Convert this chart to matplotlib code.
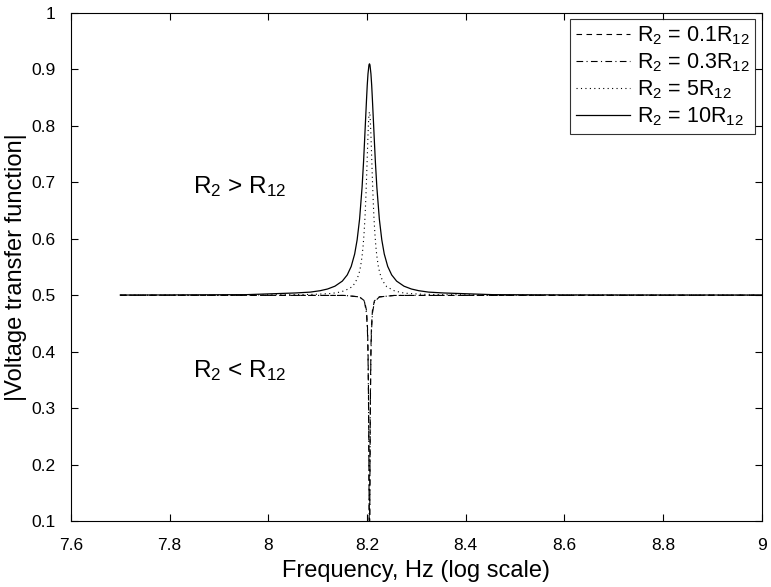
import matplotlib
matplotlib.use("Agg")
import matplotlib.pyplot as plt
from matplotlib.ticker import FuncFormatter

plt.rcParams["font.family"] = ["Liberation Sans", "DejaVu Sans"]
plt.rcParams["mathtext.fontset"] = "custom"
plt.rcParams["mathtext.rm"] = "Liberation Sans"
plt.rcParams["mathtext.it"] = "Liberation Sans"

# log10 frequency / |H| (resonance near 8.205)
x_10R12 = [7.70, 7.80, 7.955, 8.055, 8.085, 8.105, 8.120, 8.135, 8.150, 8.160,
           8.168, 8.175, 8.180, 8.185, 8.190, 8.193, 8.195, 8.197, 8.199,
           8.2005, 8.202, 8.204, 8.205,
           8.206, 8.208, 8.2095, 8.211, 8.213, 8.215, 8.217, 8.220, 8.225,
           8.230, 8.235, 8.242, 8.250, 8.260, 8.275, 8.290, 8.305, 8.325,
           8.355, 8.455, 8.605, 9.00]
y_10R12 = [0.5003, 0.5005, 0.501, 0.504, 0.5055, 0.508, 0.511, 0.516, 0.525, 0.536,
           0.551, 0.573, 0.598, 0.635, 0.691, 0.736, 0.772, 0.809, 0.846,
           0.872, 0.892, 0.908, 0.910,
           0.908, 0.892, 0.872, 0.846, 0.809, 0.772, 0.736, 0.691, 0.635,
           0.598, 0.573, 0.551, 0.536, 0.525, 0.516, 0.511, 0.508, 0.5055,
           0.504, 0.501, 0.5005, 0.5003]

x_5R12 = [7.70, 7.905, 8.055, 8.095, 8.125, 8.140, 8.155, 8.170, 8.175, 8.180,
          8.184, 8.187, 8.190, 8.192, 8.194, 8.196, 8.1975, 8.199, 8.201,
          8.202, 8.203, 8.204, 8.205,
          8.206, 8.207, 8.208, 8.209, 8.211, 8.2125, 8.214, 8.216, 8.218,
          8.220, 8.223, 8.226, 8.230, 8.235, 8.240, 8.255, 8.270, 8.285,
          8.315, 8.355, 8.505, 9.00]
y_5R12 = [0.5001, 0.5002, 0.501, 0.5016, 0.503, 0.5046, 0.508, 0.515, 0.521, 0.529,
          0.539, 0.551, 0.569, 0.586, 0.609, 0.639, 0.669, 0.704, 0.757,
          0.783, 0.805, 0.820, 0.825,
          0.820, 0.805, 0.783, 0.757, 0.704, 0.669, 0.639, 0.609, 0.586,
          0.569, 0.551, 0.539, 0.529, 0.521, 0.515, 0.508, 0.5046, 0.503,
          0.5016, 0.501, 0.5002, 0.5001]

x_dip = [7.70, 8.155, 8.185, 8.195, 8.199, 8.201, 8.202, 8.2030, 8.2035,
         8.2040, 8.2045, 8.2050, 8.2055, 8.2060, 8.2065, 8.2070, 8.208,
         8.209, 8.211, 8.215, 8.225, 8.255, 9.00]
y_01R12 = [0.5, 0.4996, 0.497, 0.490, 0.473, 0.443, 0.408, 0.334, 0.270,
           0.181, 0.086, 0.040, 0.086, 0.181, 0.270, 0.334, 0.408,
           0.443, 0.473, 0.490, 0.497, 0.4996, 0.5]
y_03R12 = [0.5, 0.4996, 0.497, 0.488, 0.468, 0.434, 0.396, 0.320, 0.258,
           0.181, 0.104, 0.070, 0.104, 0.181, 0.258, 0.320, 0.396,
           0.434, 0.468, 0.488, 0.497, 0.4996, 0.5]

xticks = [7.6, 7.8, 8, 8.2, 8.4, 8.6, 8.8, 9]
yticks = [0.1, 0.2, 0.3, 0.4, 0.5, 0.6, 0.7, 0.8, 0.9, 1]

fig = plt.figure(figsize=(7.71, 5.87), dpi=100)
ax = fig.add_axes([0.092, 0.1124, 0.896, 0.8655])

ax.plot(x_dip, y_01R12, color="black", lw=0.8, ls=(0, (5, 4)),
        label="R$_2$ = 0.1R$_{12}$")
ax.plot(x_dip, y_03R12, color="black", lw=0.8, ls=(0, (6, 3, 1, 3)),
        label="R$_2$ = 0.3R$_{12}$")
ax.plot(x_5R12, y_5R12, color="black", lw=0.8, ls=(0, (1, 3)),
        label="R$_2$ = 5R$_{12}$")
ax.plot(x_10R12, y_10R12, color="black", lw=0.9, ls="-",
        label="R$_2$ = 10R$_{12}$")

ax.set_xlim(7.6, 9)
ax.set_ylim(0.1, 1)
ax.set_xticks(xticks)
ax.set_yticks(yticks)
fmt = FuncFormatter(lambda v, p: "%g" % round(v, 2))
ax.xaxis.set_major_formatter(fmt)
ax.yaxis.set_major_formatter(fmt)
ax.tick_params(direction="in", top=True, right=True, length=5,
               labelsize=12.5, width=0.8)
ax.tick_params(axis="x", pad=12)
ax.tick_params(axis="y", pad=11)
for s in ax.spines.values():
    s.set_linewidth(0.8)

ax.set_xlabel("Frequency, Hz (log scale)", fontsize=17, labelpad=5)
ax.set_ylabel("|Voltage transfer function|", fontsize=17, labelpad=3)

ax.text(7.847, 0.693, "R$_2$ > R$_{12}$", fontsize=17.5,
        va="center", ha="left")
ax.text(7.847, 0.366, "R$_2$ < R$_{12}$", fontsize=17.5,
        va="center", ha="left")

leg = ax.legend(loc="upper right", fontsize=15.5, frameon=True, fancybox=False,
                edgecolor="black", handlelength=2.5, handletextpad=0.35,
                borderpad=0.25, labelspacing=0.2, borderaxespad=0.3)
leg.get_frame().set_linewidth(0.8)

fig.savefig("out.png", dpi=100)
